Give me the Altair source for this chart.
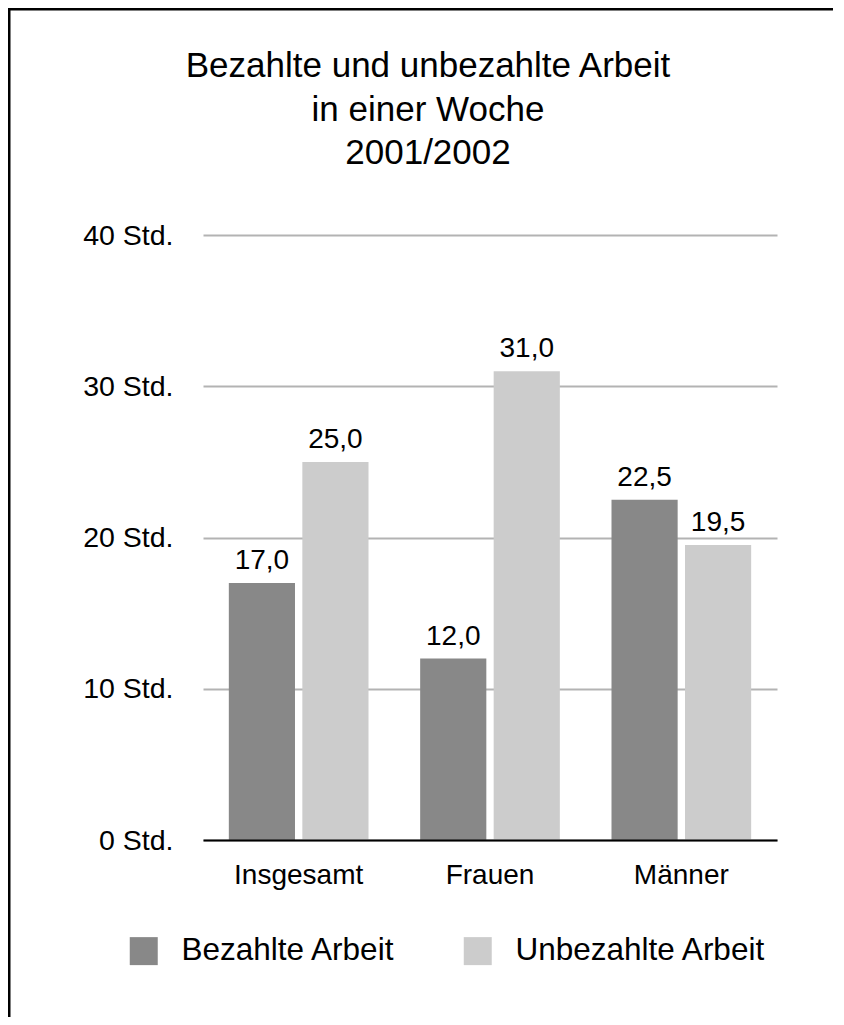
import altair as alt
import pandas as pd

categories = ["Insgesamt", "Frauen", "Männer"]
series = ["Bezahlte Arbeit", "Unbezahlte Arbeit"]
bezahlt = [17.0, 12.0, 22.5]
unbezahlt = [25.0, 31.0, 19.5]
y_ticks = [0, 10, 20, 30, 40]
title_lines = ["Bezahlte und unbezahlte Arbeit", "in einer Woche", "2001/2002"]
colors = ["#888888", "#cccccc"]

rows = []
for i, c in enumerate(categories):
    for s, vals in zip(series, [bezahlt, unbezahlt]):
        rows.append({"Gruppe": c, "Art": s, "Stunden": vals[i],
                     "Label": f"{vals[i]:.1f}".replace(".", ",")})
df = pd.DataFrame(rows)

FONT = "Liberation Sans"

x = alt.X("Gruppe:N", sort=categories,
          scale=alt.Scale(paddingInner=0.27, paddingOuter=0.135),
          axis=alt.Axis(title=None, labelAngle=0, labelFontSize=28, labelFont=FONT,
                        labelColor="#000", labelPadding=21, ticks=False, tickSize=0,
                        domainColor="#000", domainWidth=2, zindex=1))
y = alt.Y("Stunden:Q", scale=alt.Scale(domain=[0, 40], nice=False),
          axis=alt.Axis(values=y_ticks, labelExpr="datum.value + ' Std.'", title=None,
                        ticks=False, tickSize=0, domain=False, grid=True,
                        gridColor="#b3b3b3", gridWidth=2, labelFontSize=28.5,
                        labelFont=FONT, labelColor="#000", labelPadding=30))
xo = alt.XOffset("Art:N", sort=series, scale=alt.Scale(paddingInner=0.1, paddingOuter=0))
color = alt.Color("Art:N", sort=series, scale=alt.Scale(domain=series, range=colors),
                  legend=alt.Legend(title=None, orient="none", legendX=-75, legendY=700,
                                    direction="horizontal", symbolType="square",
                                    symbolSize=784, symbolStrokeWidth=0, labelFontSize=31.5,
                                    labelFont=FONT, labelColor="#000", labelOffset=22,
                                    columnPadding=66, labelLimit=500, padding=0,
                                    symbolOpacity=1))

bars = alt.Chart(df).mark_bar().encode(x=x, xOffset=xo, y=y, color=color)
labels = alt.Chart(df).mark_text(dy=-14, baseline="alphabetic", fontSize=28, font=FONT,
                                 color="#000").encode(x=x, xOffset=xo, y=y, text="Label:N")

frame_data = pd.DataFrame({"k": [0]})
frame_top = alt.Chart(frame_data).mark_rule(color="#000", strokeWidth=3).encode(
    x=alt.value(-195.5), x2=alt.value(630), y=alt.value(-226))
frame_left = alt.Chart(frame_data).mark_rule(color="#000", strokeWidth=3).encode(
    x=alt.value(-194), y=alt.value(-227.5), y2=alt.value(800))

chart = alt.layer(frame_top, frame_left, bars, labels).properties(
    width=574, height=605,
    autosize=alt.AutoSizeParams(type="none"),
    padding={"left": 195, "top": 227, "right": 59, "bottom": 177},
    title=alt.TitleParams(text=title_lines, fontSize=35, font=FONT, fontWeight="normal",
                          color="#000", lineHeight=43.5, anchor="middle", dx=-62,
                          baseline="bottom", offset=-200),
).configure_view(stroke=None)

chart.save("out.html", embed_options={"renderer": "svg", "actions": False})
